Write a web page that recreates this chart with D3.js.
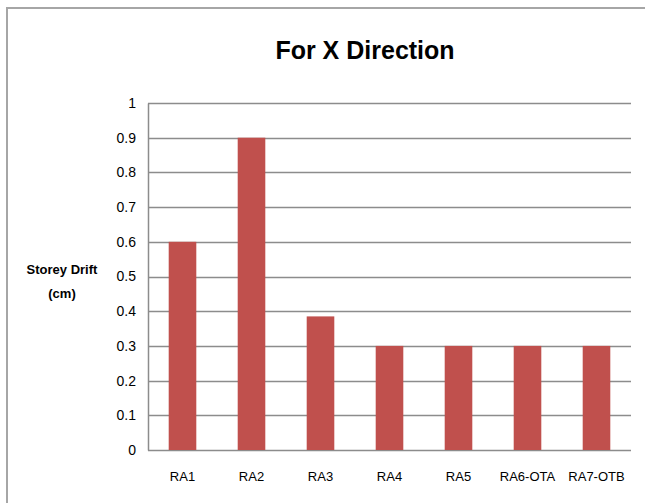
<!DOCTYPE html>
<html>
<head>
<meta charset="utf-8">
<script src="https://cdn.jsdelivr.net/npm/d3@7"></script>
<style>
  body { margin: 0; background: #fff; }
  svg text { font-family: "Liberation Sans Narrow", "Arial Narrow", "Liberation Sans", sans-serif; fill: #000; }
</style>
</head>
<body>
<svg id="chart" width="645" height="503"></svg>
<script>
var categories = ["RA1", "RA2", "RA3", "RA4", "RA5", "RA6-OTA", "RA7-OTB"];
var drift = [0.6, 0.9, 0.385, 0.3, 0.3, 0.3, 0.3];
var yTicks = [0, 0.1, 0.2, 0.3, 0.4, 0.5, 0.6, 0.7, 0.8, 0.9, 1];

var data = categories.map(function(c, i) { return { name: c, value: drift[i] }; });

var plotLeft = 148, plotRight = 631, plotTop = 103, plotBottom = 450;

var svg = d3.select("#chart");

// outer chart frame
svg.append("path")
    .attr("d", "M7,503 V8 H645")
    .attr("fill", "none")
    .attr("stroke", "#a6a6a6")
    .attr("stroke-width", 2);

var x = d3.scaleBand()
    .domain(categories)
    .range([plotLeft, plotRight])
    .paddingInner(0.6)
    .paddingOuter(0.3);

var y = d3.scaleLinear()
    .domain([0, 1])
    .range([plotBottom, plotTop]);

// gridlines
svg.append("g")
    .selectAll("line")
    .data(yTicks)
    .enter()
    .append("line")
        .attr("x1", plotLeft)
        .attr("x2", plotRight)
        .attr("y1", function(d) { return Math.round(y(d)) + 0.5; })
        .attr("y2", function(d) { return Math.round(y(d)) + 0.5; })
        .attr("stroke", "#8c8c8c")
        .attr("stroke-width", 1.5);

// y axis
var yAxis = svg.append("g")
    .attr("transform", "translate(" + plotLeft + ",0)")
    .call(d3.axisLeft(y).tickValues(yTicks).tickSize(0).tickPadding(12)
        .tickFormat(function(d) { return d3.format("")(d); }));
yAxis.select(".domain").attr("stroke", "#8c8c8c").attr("stroke-width", 1.5);
yAxis.selectAll("text").style("font-size", "14px");

// x axis
var xAxis = svg.append("g")
    .attr("transform", "translate(0," + plotBottom + ")")
    .call(d3.axisBottom(x).tickSize(0).tickPadding(22));
xAxis.select(".domain").remove();
xAxis.selectAll("text").style("font-size", "13px");

// bars
svg.append("g")
    .selectAll(".bar")
    .data(data)
    .enter()
    .append("rect")
        .attr("class", "bar")
        .attr("x", function(d) { return x(d.name); })
        .attr("y", function(d) { return y(d.value); })
        .attr("width", x.bandwidth())
        .attr("height", function(d) { return plotBottom - y(d.value); })
        .attr("fill", "#c0504d");

// title
svg.append("text")
    .attr("x", 365)
    .attr("y", 59)
    .attr("text-anchor", "middle")
    .style("font-size", "25px")
    .style("font-weight", "bold")
    .text("For X Direction");

// y axis title
var yt = svg.append("text")
    .attr("text-anchor", "middle")
    .style("font-size", "13px")
    .style("font-weight", "bold");
yt.append("tspan").attr("x", 62).attr("y", 274).text("Storey Drift");
yt.append("tspan").attr("x", 62).attr("y", 298).text("(cm)");
</script>
</body>
</html>
